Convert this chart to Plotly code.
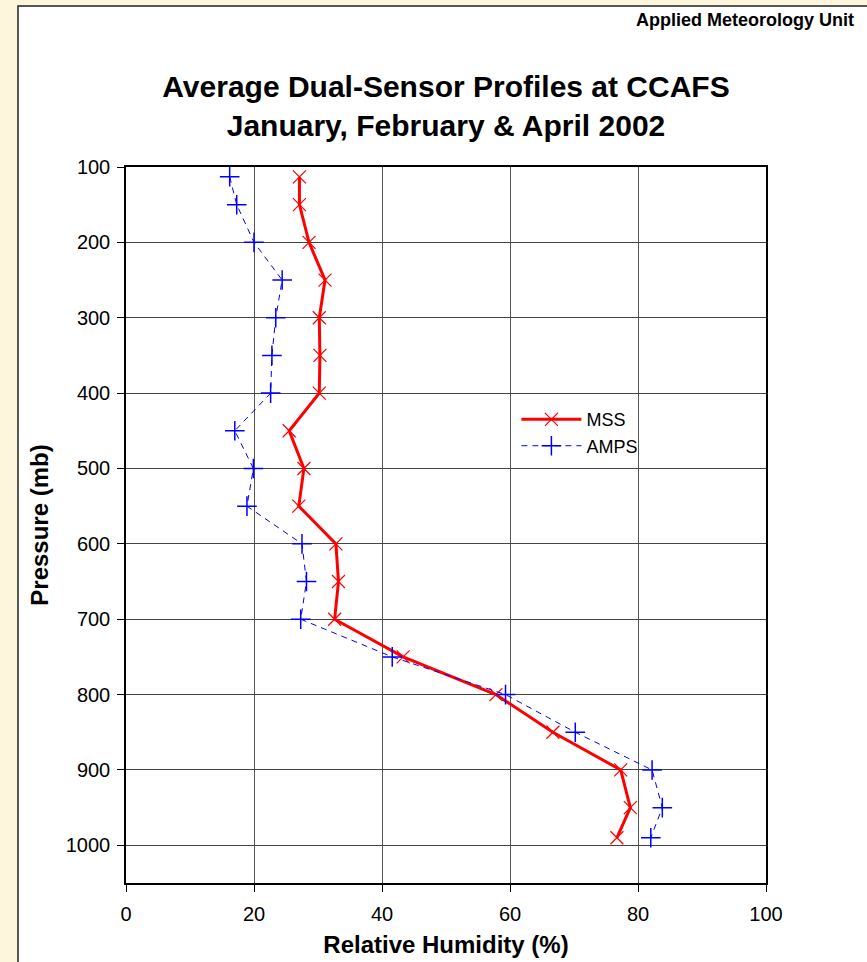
import plotly.graph_objects as go

pressure = [113, 150, 200, 250, 300, 350, 400, 450, 500, 550, 600, 650, 700,
            750, 800, 850, 900, 950, 990]
mss = [27.1, 27.1, 28.6, 31.1, 30.2, 30.3, 30.2, 25.5, 27.8, 27.0, 32.8, 33.2,
       32.6, 43.3, 57.8, 66.7, 77.3, 78.8, 76.7]
amps = [16.2, 17.3, 20.0, 24.4, 23.4, 22.8, 22.6, 17.0, 19.9, 18.9, 27.5, 28.2,
        27.3, 41.6, 59.3, 70.2, 82.2, 83.8, 82.0]

x_ticks = [0, 20, 40, 60, 80, 100]
y_ticks = [100, 200, 300, 400, 500, 600, 700, 800, 900, 1000]

FONT = "Liberation Sans, Arial, sans-serif"

fig = go.Figure()
fig.add_trace(go.Scatter(
    x=mss, y=pressure, name="MSS", mode="lines+markers",
    line=dict(color="#ff0000", width=3),
    marker=dict(symbol="x-thin", size=13, line=dict(color="#ff0000", width=1.2)),
))
fig.add_trace(go.Scatter(
    x=amps, y=pressure, name="AMPS", mode="lines+markers",
    line=dict(color="#0000ff", width=1, dash="6px,5px"),
    marker=dict(symbol="cross-thin", size=14, line=dict(color="#0000ff", width=1.5)),
))

# white panel with dark border over the cream page
fig.add_shape(type="rect", xref="paper", yref="paper",
              x0=-0.16875, x1=1.3, y0=-0.3, y1=(883 - 6) / 716,
              fillcolor="white", line=dict(color="#222222", width=1.5),
              layer="below")

fig.add_annotation(
    text="<b>Applied Meteorology Unit</b>", xref="paper", yref="paper",
    x=(856 - 126) / 640, y=(883 - 20) / 716, xanchor="right", yanchor="middle",
    showarrow=False, font=dict(family=FONT, size=18, color="black"),
)

fig.update_layout(
    width=867, height=962,
    paper_bgcolor="#fdf6dc", plot_bgcolor="white",
    margin=dict(l=126, r=101, t=167, b=79, autoexpand=False),
    font=dict(family=FONT, size=20, color="black"),
    title=dict(
        text="<b>Average Dual-Sensor Profiles at CCAFS<br>January, February & April 2002</b>",
        x=(126 + 320) / 867, xanchor="center", y=1 - 97 / 962, yanchor="middle",
        font=dict(family=FONT, size=30, color="black"),
    ),
    legend=dict(x=0.61, y=0.673, xanchor="left", yanchor="top",
                bgcolor="rgba(0,0,0,0)", font=dict(size=18),
                itemwidth=60),
    showlegend=True,
)

fig.update_xaxes(
    range=[0, 100], tickvals=x_ticks, showgrid=True, gridcolor="#555555",
    gridwidth=1, zeroline=False, showline=True, linecolor="black",
    linewidth=1.5, mirror=True, ticks="outside", ticklen=7, tickcolor="black",
    ticklabelstandoff=5, automargin=False,
    title=dict(text="<b>Relative Humidity (%)</b>", font=dict(size=24), standoff=12),
)
fig.update_yaxes(
    range=[1050, 100], tickvals=y_ticks, showgrid=True, gridcolor="#444444",
    gridwidth=1, zeroline=False, showline=True, linecolor="black",
    linewidth=1.5, mirror=True, ticks="outside", ticklen=7, tickcolor="black",
    ticklabelstandoff=3, automargin=False,
    title=dict(text="<b>Pressure (mb)</b>", font=dict(size=24), standoff=10),
)

fig.write_html("out.html", config={"displayModeBar": False},
               post_script="document.body.style.margin='0';")
